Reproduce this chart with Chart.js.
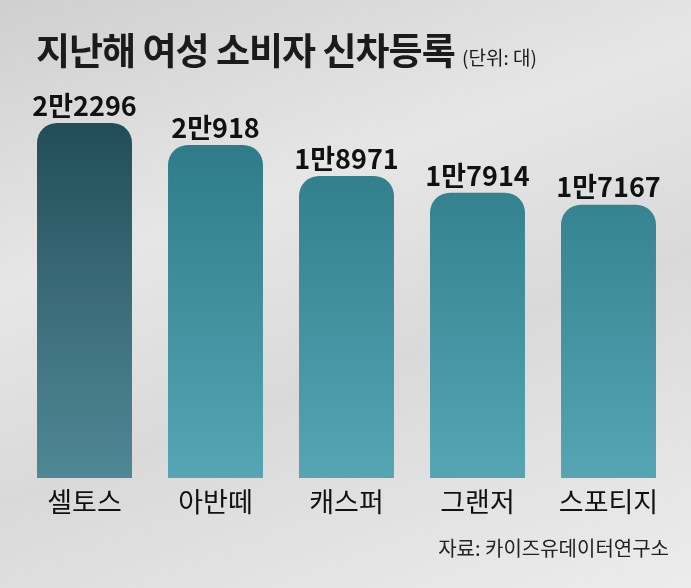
<!DOCTYPE html>
<html><head><meta charset="utf-8">
<script src="https://cdn.jsdelivr.net/npm/chart.js@4"></script>
<style>
body{margin:0;}
#wrap{position:relative;width:691px;height:588px;background:linear-gradient(160deg,#cfcfcf 0%,#e6e6e6 35%,#d9d9d9 60%,#ececec 100%);font-family:"Noto Sans CJK KR",sans-serif;}
#title{position:absolute;left:36px;top:22px;font-size:37px;font-weight:700;color:#1b1b1b;letter-spacing:-1px;white-space:nowrap;}
#title span{font-size:19px;font-weight:400;letter-spacing:0;}
#src{position:absolute;right:22px;top:533px;font-size:20px;color:#222;}
canvas{position:absolute;left:0;top:0;}
</style></head>
<body><div id="wrap">
<canvas id="c" width="691" height="588"></canvas>
<div id="title">지난해 여성 소비자 신차등록 <span>(단위: 대)</span></div>
<div id="src">자료: 카이즈유데이터연구소</div>
</div>
<script>
// data
const models = ["셀토스", "아반떼", "캐스퍼", "그랜저", "스포티지"];
const registrations = [22296, 20918, 18971, 17914, 17167];
const valueLabels = ["2만2296", "2만918", "1만8971", "1만7914", "1만7167"];

const labelPlugin = {
  id: "labels",
  afterDatasetsDraw(chart) {
    const ctx = chart.ctx;
    const meta = chart.getDatasetMeta(0);
    ctx.save();
    ctx.textAlign = "center";
    meta.data.forEach((bar, i) => {
      ctx.fillStyle = "#111";
      ctx.font = "600 27px 'Noto Sans CJK KR'";
      ctx.textBaseline = "bottom";
      ctx.fillText(valueLabels[i], bar.x, bar.y - 4);
      ctx.font = "400 27px 'Noto Sans CJK KR'";
      ctx.textBaseline = "middle";
      ctx.fillText(models[i], bar.x, chart.chartArea.bottom + 24);
    });
    ctx.restore();
  }
};

function barColor(context) {
  const area = context.chart.chartArea;
  if (!area) return "#3a8896";
  const g = context.chart.ctx.createLinearGradient(0, area.top, 0, area.bottom);
  if (context.dataIndex === 0) {
    g.addColorStop(0, "#1d4953");
    g.addColorStop(0.55, "#3c6e7a");
    g.addColorStop(1, "#4f8794");
  } else {
    g.addColorStop(0, "#2a7683");
    g.addColorStop(1, "#55a5b4");
  }
  return g;
}

new Chart(document.getElementById("c"), {
  type: "bar",
  data: {
    labels: models,
    datasets: [{
      data: registrations,
      backgroundColor: barColor,
      borderRadius: { topLeft: 20, topRight: 20 },
      borderSkipped: "bottom",
      barPercentage: 0.725,
      categoryPercentage: 1
    }]
  },
  options: {
    responsive: false,
    animation: false,
    layout: { padding: { top: 100, bottom: 110, left: 19, right: 17 } },
    plugins: { legend: { display: false }, tooltip: { enabled: false } },
    scales: {
      x: { display: false },
      y: { display: false, min: 0, max: 23740 }
    }
  },
  plugins: [labelPlugin]
});
</script>
</body></html>
